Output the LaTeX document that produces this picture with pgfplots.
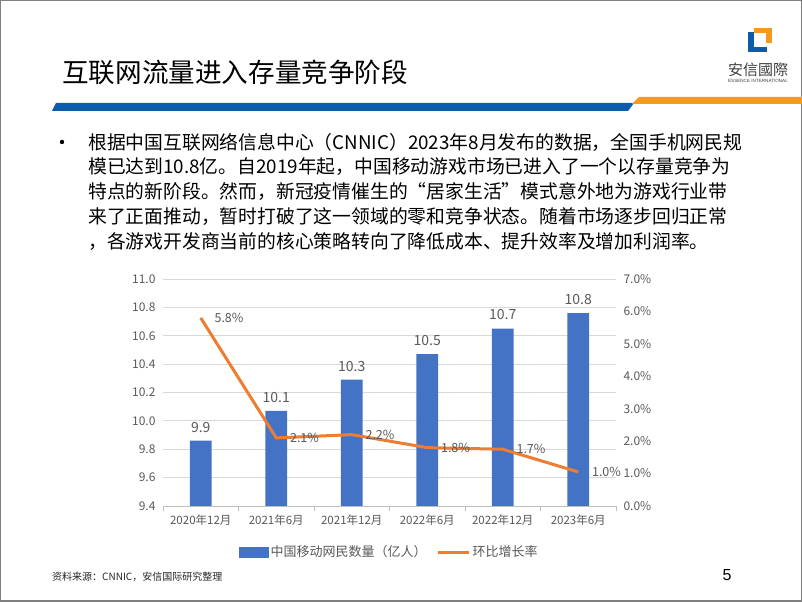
\documentclass[border=0pt]{standalone}
\usepackage{pgfplots}
\pgfplotsset{compat=1.18}
\usepackage{fontspec}
\setmainfont{Noto Sans CJK SC}
\newfontfamily\latinsans{Liberation Sans}
\definecolor{barblue}{HTML}{4472C4}
\definecolor{lineorange}{HTML}{ED7D31}
\definecolor{txtgray}{HTML}{595959}
\definecolor{gridgray}{HTML}{D9D9D9}
\definecolor{axgray}{HTML}{BFBFBF}
\definecolor{stripeblue}{HTML}{0B5CAB}
\definecolor{stripeorange}{HTML}{F39A21}
\definecolor{bordergray}{HTML}{7F7F7F}
\newcommand{\fs}[1]{\fontsize{#1bp}{#1bp}\selectfont}
\begin{document}
\begin{tikzpicture}
\begin{scope}[x=1bp,y=1bp]
\fill[white] (0,0) rectangle (802,602);
\draw[bordergray, line width=1.5bp] (0.75,0.75) rectangle (801.25,601.25);
% title
\node[anchor=west, inner sep=0] at (62,602-72) {\fs{26.6}互联网流量进入存量竞争阶段};
% stripes
\fill[stripeblue] (52,602-111) -- (56,602-103) -- (634,602-103) -- (628,602-111) -- cycle;
\fill[stripeorange] (632,602-104) -- (639,602-97) -- (802,602-97) -- (802,602-104) -- cycle;
% logo
\fill[stripeblue] (748,602-32) rectangle (754,602-52);
\fill[stripeblue] (748,602-47) rectangle (767,602-52);
\fill[stripeorange] (754,602-28) rectangle (772,602-33);
\fill[stripeorange] (766,602-28) rectangle (772,602-43);
\node[anchor=center, inner sep=0, text=black!75] at (758,602-70) {\fs{15}安信國際};
\node[anchor=center, inner sep=0, text=black!75] at (758,602-81) {\latinsans\fs{4.6}ESSENCE INTERNATIONAL};
% body text
\fill[black] (62,602-142) circle (2.2);
\begin{scope}[every node/.style={anchor=west, inner sep=0}]
\node at (88,602-142) {\fs{18.8}根据中国互联网络信息中心（CNNIC）2023年8月发布的数据，全国手机网民规};
\node at (88,602-167) {\fs{18.8}模已达到10.8亿。自2019年起，中国移动游戏市场已进入了一个以存量竞争为};
\node at (88,602-192) {\fs{18.8}特点的新阶段。然而，新冠疫情催生的“居家生活”模式意外地为游戏行业带};
\node at (88,602-217) {\fs{18.8}来了正面推动，暂时打破了这一领域的零和竞争状态。随着市场逐步回归正常};
\node at (88,602-242) {\fs{18.8}，各游戏开发商当前的核心策略转向了降低成本、提升效率及增加利润率。};
\end{scope}
% footnote and page number
\node[anchor=west, inner sep=0, text=black!85] at (52,602-577) {\fs{10}资料来源：CNNIC，安信国际研究整理};
\node[anchor=center, inner sep=0] at (727,602-575) {\latinsans\fs{16}5};
\end{scope}
% chart
\begin{axis}[
  at={(163bp,96bp)}, anchor=south west,
  scale only axis, width=453bp, height=227bp,
  xmin=-0.5, xmax=5.5, ymin=9.4, ymax=11.0,
  ytick={9.4,9.6,9.8,10.0,10.2,10.4,10.6,10.8,11.0},
  yticklabel={\pgfmathprintnumber[fixed,fixed zerofill,precision=1,assume math mode=true]{\tick}},
  yticklabel style={font=\fs{12}, text=txtgray, xshift=-4bp},
  ymajorgrids, grid style={gridgray, line width=0.8bp},
  axis x line*=bottom, axis y line*=left,
  y axis line style={draw=none},
  x axis line style={axgray, line width=0.8bp},
  xtick={0,1,2,3,4,5},
  xticklabels={2020年12月,2021年6月,2021年12月,2022年6月,2022年12月,2023年6月},
  xticklabel style={font=\fs{11.5}, text=txtgray, yshift=-5bp},
  minor xtick={-0.5,0.5,1.5,2.5,3.5,4.5,5.5},
  major tick length=0pt, minor tick length=5bp, tick align=outside,
  minor x tick style={axgray, line width=0.8bp},
]
\addplot[ybar, bar width=0.29, fill=barblue, draw=none,
  nodes near coords, point meta=explicit symbolic,
  nodes near coords style={font=\fs{14}, text=txtgray, yshift=5bp}]
  coordinates {(0,9.86)[9.9] (1,10.07)[10.1] (2,10.29)[10.3] (3,10.47)[10.5] (4,10.65)[10.7] (5,10.76)[10.8]};
\end{axis}
\begin{axis}[
  at={(163bp,96bp)}, anchor=south west,
  scale only axis, width=453bp, height=227bp,
  xmin=-0.5, xmax=5.5, ymin=0, ymax=7,
  axis x line=none, axis y line*=right,
  y axis line style={draw=none},
  ytick={0,1,2,3,4,5,6,7}, major tick length=0pt,
  yticklabel={\pgfmathprintnumber[fixed,fixed zerofill,precision=1,assume math mode=true]{\tick}\%},
  yticklabel style={font=\fs{12}, text=txtgray, xshift=4bp},
  legend columns=2,
  legend style={at={(0.5,-0.203)}, anchor=center, draw=none, fill=none,
    font=\fs{13}, text=txtgray,
    /tikz/every even column/.append style={column sep=8bp}},
]
\addlegendimage{legend image code/.code={\fill[barblue] (0bp,-5bp) rectangle (29bp,5bp);}}
\addplot[lineorange, line width=3bp, mark=none,
  nodes near coords, point meta=explicit symbolic,
  nodes near coords style={anchor=west, font=\fs{12.5}, text=txtgray, xshift=9bp},
  legend image code/.code={\draw[lineorange, line width=3bp] (0bp,0bp) -- (31bp,0bp);}]
  coordinates {(0,5.8)[5.8\%] (1,2.1)[2.1\%] (2,2.2)[2.2\%] (3,1.8)[1.8\%] (4,1.75)[1.7\%] (5,1.05)[1.0\%]};
\legend{中国移动网民数量（亿人）,环比增长率}
\end{axis}
\end{tikzpicture}
\end{document}
